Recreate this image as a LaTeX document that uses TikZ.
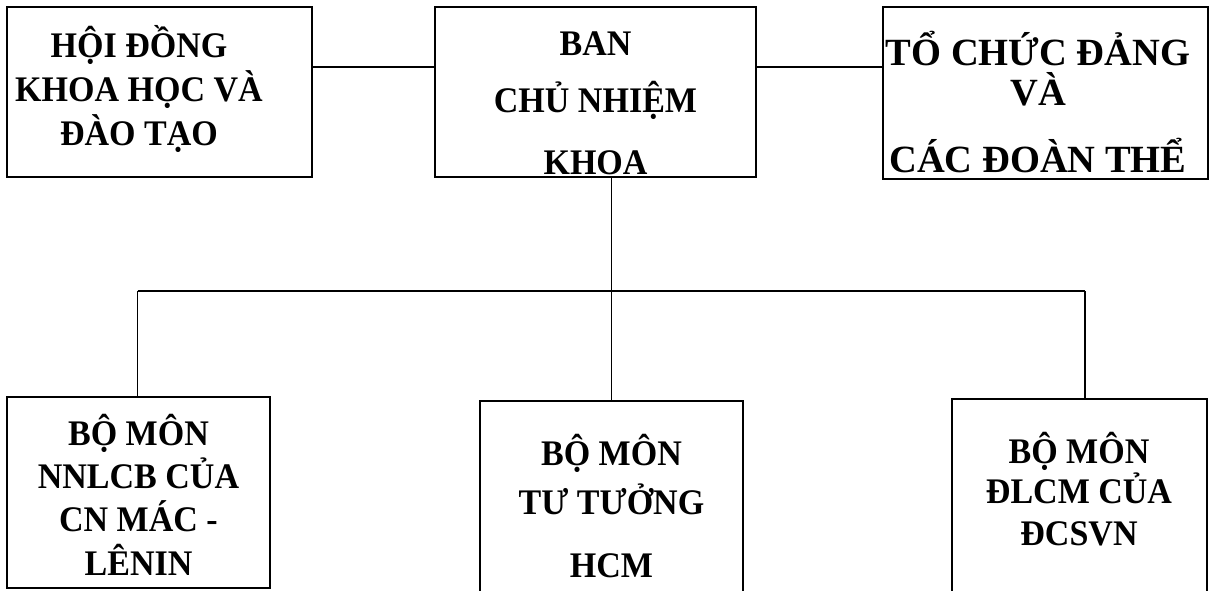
\documentclass[tikz,border=0pt]{standalone}
\usepackage{fontspec}
\setmainfont{Liberation Serif}[FakeStretch=0.945]
\newfontfamily\widefont{Liberation Serif}
\usetikzlibrary{positioning}

\begin{document}
\begin{tikzpicture}[x=1pt, y=-1pt, line width=1.2pt,
	unit/.style={draw, inner sep=0pt},
	txt/.style={align=center, inner sep=0pt, font=\fontsize{36}{44}\selectfont\bfseries}]
	\clip (0,0) rectangle (1217,590);

	% upper row
	\node[unit, minimum width=305, minimum height=170] (HoiDong) at (159.5,92) {};
	\node[unit, minimum width=321, minimum height=170] (BanCN)   at (595.5,92) {};
	\node[unit, minimum width=325, minimum height=172] (ToChuc)  at (1045.5,93) {};

	% lower row
	\node[unit, minimum width=263, minimum height=191] (BmNNL) at (138.5,492.5) {};
	\node[unit, minimum width=263, minimum height=220] (BmTT)  at (611.5,511) {};
	\node[unit, minimum width=255, minimum height=222] (BmDL)  at (1079.5,510) {};

	% texts (anchored at the baseline of their last line)
	\node[txt, anchor=base] (HoiDongT) at (139,145) {HỘI ĐỒNG\\KHOA HỌC VÀ\\ĐÀO TẠO};
	\node[txt, anchor=base] (BanCNT) at (595.5,174) {BAN\\[13pt]CHỦ NHIỆM\\[18pt]KHOA};
	\node[txt, anchor=base, font=\widefont\fontsize{38.5}{40}\selectfont\bfseries] (ToChucT) at (1038,172) {TỔ CHỨC ĐẢNG\\VÀ\\[27pt]CÁC ĐOÀN THỂ};
	\node[txt, anchor=base, font=\fontsize{36}{43.3}\selectfont\bfseries] (BmNNLT) at (138.5,575) {BỘ MÔN\\NNLCB CỦA\\CN MÁC -\\LÊNIN};
	\node[txt, anchor=base] (BmTTT) at (611.5,577) {BỘ MÔN\\[5pt]TƯ TƯỞNG\\[19pt]HCM};
	\node[txt, anchor=base, font=\fontsize{36}{40}\selectfont\bfseries] (BmDLT) at (1079,545) {BỘ MÔN\\ĐLCM CỦA\\[2pt]ĐCSVN};

	\coordinate (BusL) at (137.7,291);
	\coordinate (BusR) at (1085,291);

	\draw (HoiDong.east |- 0,67) -- (BanCN.west |- 0,67);
	\draw (BanCN.east |- 0,67) -- (ToChuc.west |- 0,67);
	\draw (BanCN.south -| BmTT.north) -- (BmTT.north);
	\draw (BusL) -- (BusR);
	\draw (BusL) -- (BusL |- BmNNL.north);
	\draw (BusR) -- (BusR |- BmDL.north);
\end{tikzpicture}
\end{document}
